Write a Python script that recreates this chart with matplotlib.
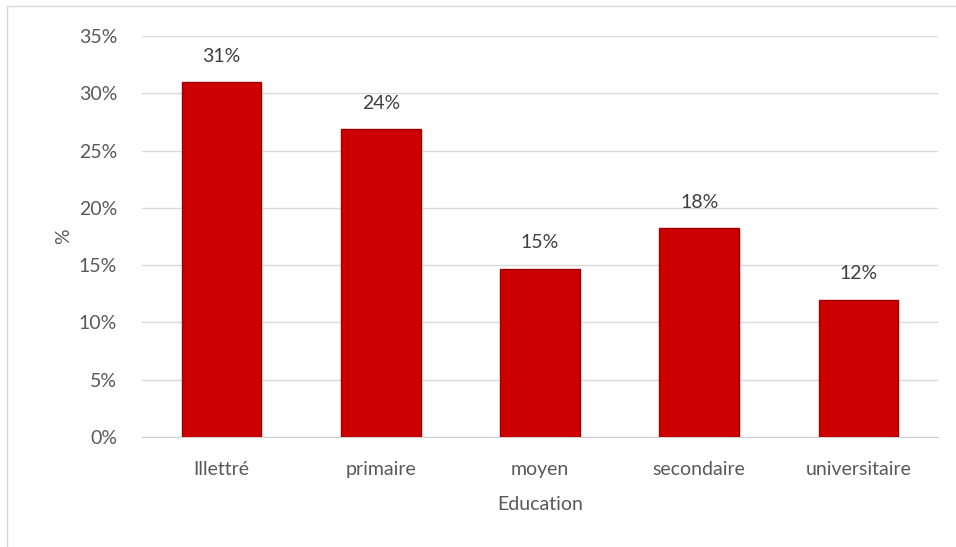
import matplotlib
matplotlib.use("Agg")
import matplotlib.pyplot as plt
from matplotlib.patches import Rectangle

categories = ["Illettré", "primaire", "moyen", "secondaire", "universitaire"]
values = [31.0, 26.9, 14.7, 18.2, 12.0]
value_labels = ["31%", "24%", "15%", "18%", "12%"]
yticks = [0, 5, 10, 15, 20, 25, 30, 35]

plt.rcParams['font.family'] = ['Lato', 'DejaVu Sans']
txt = '#595959'

W, H = 956, 547
fig = plt.figure(figsize=(W / 100, H / 100), dpi=100)
# plot area in pixels: x 142..938, y 36..437
ax = fig.add_axes([142 / W, 1 - 437 / H, (938 - 142) / W, (437 - 36) / H])

# chart border (top + left visible)
fig.patches.append(Rectangle((7 / W, -0.1), 1.2, 1 - 6 / H + 0.1, transform=fig.transFigure,
                             fill=False, edgecolor='#D9D9D9', linewidth=1))

x = list(range(len(categories)))
ax.bar(x, values, width=0.5, color='#CC0000', edgecolor='#9E0000', linewidth=1.0, zorder=3)

for xi, v, lab in zip(x, values, value_labels):
    ax.text(xi, v + 1.5, lab, ha='center', va='bottom', fontsize=14, color='#404040')

ax.set_ylim(0, 35)
ax.set_xlim(-0.5, len(categories) - 0.5)
ax.set_yticks(yticks)
ax.set_yticklabels(['{}%'.format(t) for t in yticks], fontsize=14, color=txt)
ax.set_xticks(x)
ax.set_xticklabels(categories, fontsize=14, color=txt)
ax.tick_params(length=0)
ax.tick_params(axis='y', pad=18)
ax.tick_params(axis='x', pad=17)
ax.grid(axis='y', color='#D9D9D9', linewidth=1, zorder=0)
ax.set_axisbelow(True)
for s in ['top', 'right', 'left']:
    ax.spines[s].set_visible(False)
ax.spines['bottom'].set_color('#D0D0D0')

ax.set_ylabel('%', fontsize=14, color=txt, labelpad=5)
ax.set_xlabel('Education', fontsize=14, color=txt, labelpad=13)

fig.savefig('out.png', dpi=100)
